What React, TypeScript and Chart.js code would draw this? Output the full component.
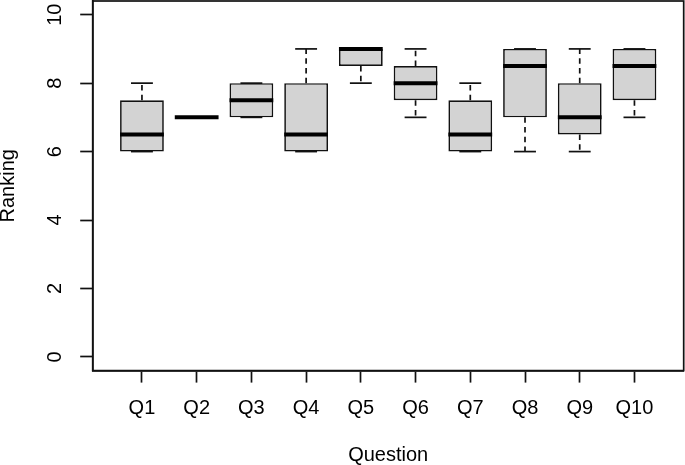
import React, { useEffect, useRef } from "react";
import { Chart, registerables } from "chart.js";

Chart.register(...registerables);

const categories = ["Q1", "Q2", "Q3", "Q4", "Q5", "Q6", "Q7", "Q8", "Q9", "Q10"];
const lowerWhisker = [6, 7, 7, 6, 8, 7, 6, 6, 6, 7];
const lowerQuartile = [6, 7, 7, 6, 8.5, 7.5, 6, 7, 6.5, 7.5];
const medians = [6.5, 7, 7.5, 6.5, 9, 8, 6.5, 8.5, 7, 8.5];
const upperQuartile = [7.5, 7, 8, 8, 9, 8.5, 7.5, 9, 8, 9];
const upperWhisker = [8, 7, 8, 9, 9, 9, 8, 9, 9, 9];
const yTicks = [0, 2, 4, 6, 8, 10];
const xTitle = "Question";
const yTitle = "Ranking";

const FONT = "'Liberation Sans', Arial, Helvetica, sans-serif";
const LINE = 1.7;

const boxPlotPlugin = {
  id: "boxPlotExtras",
  afterDatasetsDraw(chart: any) {
    const { ctx, scales, chartArea } = chart;
    const xs = scales.x;
    const ys = scales.y;
    ctx.save();
    categories.forEach((_, i) => {
      const pos = i + 1;
      const cx = xs.getPixelForValue(pos);
      const sL = xs.getPixelForValue(pos - 0.2);
      const sR = xs.getPixelForValue(pos + 0.2);
      const segs = [
        [lowerQuartile[i], lowerWhisker[i]],
        [upperQuartile[i], upperWhisker[i]],
      ];
      segs.forEach(([from, to]) => {
        const y1 = ys.getPixelForValue(from);
        const y2 = ys.getPixelForValue(to);
        ctx.strokeStyle = "#111";
        ctx.lineWidth = LINE;
        if (Math.abs(y2 - y1) > 0.5) {
          ctx.setLineDash([5.5, 4.2]);
          ctx.beginPath();
          ctx.moveTo(cx, y1);
          ctx.lineTo(cx, y2);
          ctx.stroke();
        }
        ctx.setLineDash([]);
        ctx.beginPath();
        ctx.moveTo(sL, y2);
        ctx.lineTo(sR, y2);
        ctx.stroke();
      });
      const bL = xs.getPixelForValue(pos - 0.4);
      const bR = xs.getPixelForValue(pos + 0.4);
      const my = ys.getPixelForValue(medians[i]);
      ctx.strokeStyle = "#000";
      ctx.lineWidth = 4;
      ctx.beginPath();
      ctx.moveTo(bL, my);
      ctx.lineTo(bR, my);
      ctx.stroke();
    });
    ctx.strokeStyle = "#111";
    ctx.lineWidth = LINE;
    ctx.strokeRect(
      chartArea.left,
      chartArea.top,
      chartArea.right - chartArea.left,
      chartArea.bottom - chartArea.top
    );
    ctx.restore();
  },
};

export default function App() {
  const canvasRef = useRef<HTMLCanvasElement | null>(null);

  useEffect(() => {
    const canvas = canvasRef.current;
    if (!canvas) return;
    const chart = new Chart(canvas, {
      type: "bar",
      data: {
        datasets: [
          {
            data: categories.map((_, i) => ({
              x: i + 1,
              y: [lowerQuartile[i], upperQuartile[i]],
            })) as any,
            backgroundColor: "#d3d3d3",
            borderColor: "#111",
            borderWidth: LINE,
            borderSkipped: false,
            categoryPercentage: 0.8,
            barPercentage: 1,
          },
        ],
      },
      options: {
        responsive: false,
        animation: false,
        devicePixelRatio: 1,
        layout: { padding: { top: 1, right: 1.3, left: 0, bottom: 0 } },
        plugins: {
          legend: { display: false },
          tooltip: { enabled: false },
        },
        scales: {
          x: {
            type: "linear",
            offset: false,
            min: 0.1,
            max: 10.9,
            afterBuildTicks: (scale: any) => {
              scale.ticks = categories.map((_, i) => ({ value: i + 1 }));
            },
            afterFit: (scale: any) => {
              scale.height = 94.4;
              scale.paddingLeft = 0;
              scale.paddingRight = 0;
            },
            ticks: {
              autoSkip: false,
              maxRotation: 0,
              minRotation: 0,
              padding: 14,
              color: "#000",
              font: { family: FONT, size: 20 },
              callback: (v: any) => categories[Math.round(Number(v)) - 1] ?? "",
            },
            grid: {
              offset: false,
              drawOnChartArea: false,
              tickLength: 12,
              tickColor: "#111",
              tickWidth: LINE,
            },
            border: { display: true, color: "#111", width: LINE },
            title: {
              display: true,
              text: xTitle,
              color: "#000",
              font: { family: FONT, size: 20 },
              padding: { top: 0, bottom: -2.6 },
            },
          },
          y: {
            type: "linear",
            min: -0.4,
            max: 10.4,
            afterBuildTicks: (scale: any) => {
              scale.ticks = yTicks.map((v) => ({ value: v }));
            },
            afterFit: (scale: any) => {
              scale.width = 92.7;
              scale.paddingTop = 0;
              scale.paddingBottom = 0;
            },
            ticks: {
              autoSkip: false,
              minRotation: 90,
              maxRotation: 90,
              crossAlign: "center",
              padding: 13.6,
              color: "#000",
              font: { family: FONT, size: 20 },
              callback: (v: any) => String(v),
            },
            grid: {
              drawOnChartArea: false,
              tickLength: 12.5,
              tickColor: "#111",
              tickWidth: LINE,
            },
            border: { display: true, color: "#111", width: LINE },
            title: {
              display: true,
              text: yTitle,
              color: "#000",
              font: { family: FONT, size: 20 },
              padding: { top: -3.7, bottom: 0 },
            },
          },
        },
      },
      plugins: [boxPlotPlugin],
    });
    return () => chart.destroy();
  }, []);

  return (
    <div style={{ position: "absolute", left: 0, top: 0, width: 685, height: 465, background: "#fff" }}>
      <canvas ref={canvasRef} width={685} height={465} style={{ width: 685, height: 465, display: "block" }} />
    </div>
  );
}
